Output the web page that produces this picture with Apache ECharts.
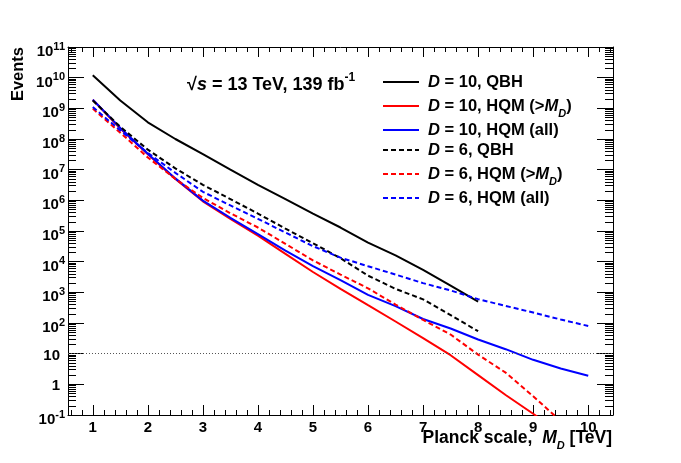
<!DOCTYPE html>
<html>
<head>
<meta charset="utf-8">
<script src="https://cdn.jsdelivr.net/npm/echarts@6/dist/echarts.min.js"></script>
<style>
html, body { margin: 0; padding: 0; background: #fff; }
#main { width: 681px; height: 463px; }
</style>
</head>
<body>
<div id="main"></div>
<script>
//横轴 M_D [TeV]
var mdTo8 = [1, 1.5, 2, 2.5, 3, 3.5, 4, 4.5, 5, 5.5, 6, 6.5, 7, 7.5, 8];
var mdTo95 = [1, 1.5, 2, 2.5, 3, 3.5, 4, 4.5, 5, 5.5, 6, 6.5, 7, 7.5, 8, 8.5, 9, 9.5];
var mdTo10 = [1, 1.5, 2, 2.5, 3, 3.5, 4, 4.5, 5, 5.5, 6, 6.5, 7, 7.5, 8, 8.5, 9, 9.5, 10];

//事件数
var qbhD10 = [1.2e10, 1.8e9, 3.5e8, 1.0e8, 3.2e7, 1.0e7, 3.2e6, 1.1e6, 3.7e5, 1.3e5, 4.2e4, 1.6e4, 5.4e3, 1.65e3, 500];
var hqmCutD10 = [1.9e9, 2.2e8, 3.2e7, 5.0e6, 9.3e5, 2.5e5, 7.1e4, 1.8e4, 4.6e3, 1.3e3, 380, 112, 32, 8.9, 2.0, 0.45, 0.11, 0.025];
var hqmAllD10 = [1.9e9, 2.3e8, 3.3e7, 5.2e6, 9.8e5, 2.7e5, 7.9e4, 2.3e4, 7.2e3, 2.5e3, 830, 355, 135, 66, 29, 14, 6.3, 3.3, 1.9];
var qbhD6 = [1.8e9, 2.5e8, 4.5e7, 1.1e7, 3.2e6, 1.1e6, 3.7e5, 1.2e5, 4.0e4, 1.3e4, 3.5e3, 1.3e3, 590, 180, 54];
var hqmCutD6 = [9.8e8, 1.6e8, 2.5e7, 5.0e6, 1.2e6, 3.8e5, 1.3e5, 3.8e4, 1.1e4, 3.8e3, 1.35e3, 400, 126, 42, 9.3, 2.4, 0.41, 0.063];
var hqmAllD6 = [1.1e9, 1.9e8, 3.5e7, 7.9e6, 1.9e6, 6.8e5, 2.5e5, 8.9e4, 3.2e4, 1.35e4, 7.1e3, 3.8e3, 2.0e3, 1.15e3, 600, 360, 220, 130, 80];

//刻度
var xMajor = [1, 2, 3, 4, 5, 6, 7, 8, 9, 10];
var yMajor = [0.1, 1, 10, 1e2, 1e3, 1e4, 1e5, 1e6, 1e7, 1e8, 1e9, 1e10, 1e11];
var eventsLine = 10;

var legendNames = ['D = 10, QBH', 'D = 10, HQM (>MD)', 'D = 10, HQM (all)', 'D = 6, QBH', 'D = 6, HQM (>MD)', 'D = 6, HQM (all)'];
var legendRich = {
	'D = 10, QBH': '{i|D}{n| = 10, QBH}',
	'D = 10, HQM (>MD)': '{i|D}{n| = 10, HQM (>}{i|M}{s|D}{n|)}',
	'D = 10, HQM (all)': '{i|D}{n| = 10, HQM (all)}',
	'D = 6, QBH': '{i|D}{n| = 6, QBH}',
	'D = 6, HQM (>MD)': '{i|D}{n| = 6, HQM (>}{i|M}{s|D}{n|)}',
	'D = 6, HQM (all)': '{i|D}{n| = 6, HQM (all)}'
};

var FONT = 'Liberation Sans';

//小刻度
var xMinor = [];
for (var k = 3; k <= 52; k++) {
	if (k % 5 != 0) xMinor.push(k / 5);
}
var yMinor = [];
for (var n = -1; n < 11; n++) {
	for (var m = 2; m <= 9; m++) {
		yMinor.push(m * Math.pow(10, n));
	}
}

var blackLine = { color: '#000', width: 1 };

function xAxisItem(pos, ticks, len, withLine, withLabel) {
	return {
		type: 'value', position: pos, min: 0.55, max: 10.45,
		axisLine: { show: withLine, onZero: false, lineStyle: blackLine },
		axisTick: { show: true, inside: true, length: len, customValues: ticks, lineStyle: blackLine },
		axisLabel: withLabel ? {
			show: true, customValues: ticks, margin: 5,
			fontFamily: FONT, fontSize: 15, fontWeight: 'bold', color: '#000'
		} : { show: false },
		splitLine: { show: false }
	};
}

function yAxisItem(pos, ticks, len, withLine, withLabel) {
	return {
		type: 'log', logBase: 10, position: pos, min: 0.1, max: 1e11,
		axisLine: { show: withLine, onZero: false, lineStyle: blackLine },
		axisTick: { show: true, inside: true, length: len, customValues: ticks, lineStyle: blackLine },
		axisLabel: withLabel ? {
			show: true, customValues: ticks, margin: 3,
			fontFamily: FONT, fontSize: 15, fontWeight: 'bold', color: '#000',
			formatter: function(val) {
				var e = Math.round(Math.log(val) / Math.LN10);
				if (e == 0) return '{p|1}';
				if (e == 1) return '{p|10}';
				return '{b|10}{sup|' + e + '}';
			},
			rich: {
				p: { fontFamily: FONT, fontSize: 15, fontWeight: 'bold', color: '#000', padding: [4, 5, 0, 0] },
				b: { fontFamily: FONT, fontSize: 15, fontWeight: 'bold', color: '#000', padding: [10, 0, 0, 0] },
				sup: { fontFamily: FONT, fontSize: 11, fontWeight: 'bold', color: '#000', padding: [0, 0, 1, 0] }
			}
		} : { show: false },
		splitLine: { show: false },
		minorTick: { show: false }
	};
}

function lineSeries(name, xs, ys, color, dashed) {
	var pts = [];
	for (var i = 0; i < xs.length; i++) {
		pts.push([xs[i], ys[i]]);
	}
	return {
		name: name, type: 'line', xAxisIndex: 0, yAxisIndex: 0,
		data: pts, symbol: 'none', clip: true,
		lineStyle: { color: color, width: 2, type: dashed ? [5, 3] : 'solid' },
		itemStyle: { color: color },
		emphasis: { disabled: true }
	};
}

//富文本样式
function richSet(size, lh) {
	return {
		n: { fontFamily: FONT, fontSize: size, fontWeight: 'bold', color: '#000', lineHeight: lh },
		i: { fontFamily: FONT, fontSize: size, fontWeight: 'bold', fontStyle: 'italic', color: '#000', lineHeight: lh },
		s: { fontFamily: FONT, fontSize: 11, fontWeight: 'bold', fontStyle: 'italic', color: '#000', lineHeight: lh, padding: [15, 0, 0, 0] },
		sup: { fontFamily: FONT, fontSize: 12, fontWeight: 'bold', color: '#000', lineHeight: lh, padding: [0, 0, 14, 0] }
	};
}

var series = [
	lineSeries(legendNames[0], mdTo8, qbhD10, '#000000', false),
	lineSeries(legendNames[1], mdTo95, hqmCutD10, '#ff0000', false),
	lineSeries(legendNames[2], mdTo10, hqmAllD10, '#0000ff', false),
	lineSeries(legendNames[3], mdTo8, qbhD6, '#000000', true),
	lineSeries(legendNames[4], mdTo95, hqmCutD6, '#ff0000', true),
	lineSeries(legendNames[5], mdTo10, hqmAllD6, '#0000ff', true)
];
//10个事件的虚线
series[0].markLine = {
	silent: true, symbol: 'none', label: { show: false },
	lineStyle: { type: [1, 2], color: '#555', width: 1 },
	data: [{ yAxis: eventsLine }]
};

var option = {
	animation: false,
	backgroundColor: '#fff',
	textStyle: { fontFamily: FONT },
	grid: { left: 68, right: 68, top: 47, bottom: 48 },
	legend: {
		orient: 'vertical', left: 382, top: 73, padding: 0,
		itemWidth: 36, itemHeight: 14, itemGap: 2,
		data: legendNames,
		selectedMode: false,
		itemStyle: { opacity: 0 },
		formatter: function(name) { return legendRich[name]; },
		textStyle: {
			fontFamily: FONT, fontSize: 16.5, fontWeight: 'bold', color: '#000',
			lineHeight: 18, padding: [0, 0, 0, 4],
			rich: richSet(16.5, 18)
		}
	},
	graphic: [
		{
			type: 'text', x: 187, y: 85,
			style: {
				text: '{n|√}{i|s}{n| = 13 TeV, 139 fb}{sup|-1}', rich: richSet(18, 22),
				align: 'left', verticalAlign: 'middle'
			}
		},
		{
			type: 'text', x: 612, y: 438,
			style: {
				text: '{n|Planck scale,  }{i|M}{s|D}{n| [TeV]}', rich: richSet(17.5, 18),
				align: 'right', verticalAlign: 'middle'
			}
		},
		{
			type: 'text', x: 18, y: 47, rotation: Math.PI / 2,
			style: {
				text: 'Events', fontFamily: FONT, fontSize: 16.5, fontWeight: 'bold', fill: '#000',
				align: 'right', verticalAlign: 'middle'
			}
		}
	],
	xAxis: [
		xAxisItem('bottom', xMajor, 10, true, true),
		xAxisItem('bottom', xMinor, 5, false, false),
		xAxisItem('top', xMajor, 10, true, false),
		xAxisItem('top', xMinor, 5, false, false)
	],
	yAxis: [
		yAxisItem('left', yMajor, 16, true, true),
		yAxisItem('left', yMinor, 8, false, false),
		yAxisItem('right', yMajor, 16, true, false),
		yAxisItem('right', yMinor, 8, false, false)
	],
	series: series
};

var myChart = echarts.init(document.getElementById('main'));
myChart.setOption(option);
</script>
</body>
</html>
